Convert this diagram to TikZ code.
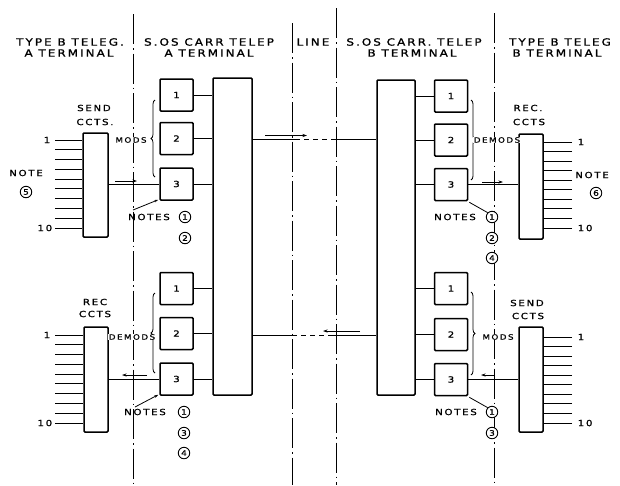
\documentclass[tikz,border=0pt]{standalone}
\usepackage{fontspec}
\setmainfont{DejaVu Sans}
\newfontfamily\drf[FakeStretch=1.2,LetterSpace=20,FakeBold=1.1]{DejaVu Sans}
\usetikzlibrary{arrows.meta,decorations.pathreplacing}
\begin{document}
\begin{tikzpicture}[x=1pt,y=-1pt,
  hdr/.style={font=\drf\fontsize{10}{10}\selectfont, inner sep=0pt},
  lbl/.style={font=\drf\fontsize{8.5}{9}\selectfont, inner sep=0.6pt},
  slbl/.style={font=\drf\fontsize{7.3}{7.5}\selectfont, inner sep=0.6pt, fill=white},
  unit/.style={draw, line width=1.5pt, rounded corners=1pt, minimum width=33pt, minimum height=32pt, font=\drf\fontsize{8.5}{9}\selectfont, inner sep=0pt},
  tall/.style={draw, line width=1.5pt, rounded corners=1pt, inner sep=0pt},
  circ/.style={draw, circle, line width=0.9pt, minimum size=11.5pt, inner sep=0pt, fill=white, font=\drf\fontsize{7.5}{8}\selectfont},
  divider/.style={line width=0.9pt, dash pattern=on 30pt off 4pt on 1.5pt off 4pt},
  wire/.style={line width=1pt},
  dashwire/.style={line width=1pt, dash pattern=on 5pt off 4pt},
  flow/.style={line width=0.7pt, -{Stealth[length=4.5pt,width=3pt]}},
  pointer/.style={line width=0.8pt, -{Stealth[length=4pt,width=2.5pt]}},
  plainptr/.style={line width=0.8pt},
  brc/.style={line width=0.8pt, decorate, decoration={brace, amplitude=4pt}},
]
\useasboundingbox[fill=white] (0,0) rectangle (620,485);

% dividers
\coordinate (v1t) at (133,14);  \coordinate (v1b) at (133,485);
\coordinate (v2t) at (292,23);  \coordinate (v2b) at (292,485);
\coordinate (v3t) at (336,8);   \coordinate (v3b) at (336,485);
\coordinate (v4t) at (494,13);  \coordinate (v4b) at (494,485);
\draw[divider] (v1t) -- (v1b);
\draw[divider] (v2t) -- (v2b);
\draw[divider] (v3t) -- (v3b);
\draw[divider] (v4t) -- (v4b);

% headers
\node[hdr, fill=white] (h1a) at (70,42) {TYPE B TELEG.};
\node[hdr] (h1b) at (69,53) {A TERMINAL};
\node[hdr] (h2a) at (209,42) {S.OS CARR TELEP};
\node[hdr] (h2b) at (209,53) {A TERMINAL};
\node[hdr] (h3) at (313,42) {LINE};
\node[hdr] (h4a) at (414,42) {S.OS CARR. TELEP};
\node[hdr] (h4b) at (412,53) {B TERMINAL};
\node[hdr] (h5a) at (560,42) {TYPE B TELEG};
\node[hdr] (h5b) at (557,53) {B TERMINAL};

% big carrier boxes
\node[tall, minimum width=39pt, minimum height=317pt] (bigA) at (232.5,236.5) {};
\node[tall, minimum width=38pt, minimum height=315pt] (bigB) at (396,237.5) {};

% telegraph boxes
\node[tall, minimum width=25pt, minimum height=104pt] (sendA) at (95.5,185) {};
\node[tall, minimum width=24pt, minimum height=105pt] (recA) at (96,379.5) {};
\node[tall, minimum width=24pt, minimum height=105pt] (recB) at (531,186.5) {};
\node[tall, minimum width=24pt, minimum height=105pt] (sendB) at (531,379.5) {};

% channel units
\node[unit] (modA1) at (176.5,95) {1};
\node[unit] (modA2) at (176.5,138.5) {2};
\node[unit] (modA3) at (176.5,184) {3};
\node[unit] (demA1) at (176.5,288.5) {1};
\node[unit] (demA2) at (176.5,333.5) {2};
\node[unit] (demA3) at (176.5,379) {3};
\node[unit] (demB1) at (451,96) {1};
\node[unit] (demB2) at (451,140) {2};
\node[unit] (demB3) at (451,184.5) {3};
\node[unit] (modB1) at (451,288.5) {1};
\node[unit] (modB2) at (451,334.5) {2};
\node[unit] (modB3) at (451,379.5) {3};

% unit to carrier box wires
\foreach \u in {modA1,modA2,modA3,demA1,demA2,demA3}
  \draw[wire] (\u.east) -- (\u.east -| bigA.west);
\foreach \u in {demB1,demB2,demB3,modB1,modB2,modB3}
  \draw[wire] (\u.west) -- (\u.west -| bigB.east);

% unit 3 to telegraph boxes
\draw[wire] (modA3.west) -- (modA3.west -| sendA.east);
\draw[wire] (demA3.west) -- (demA3.west -| recA.east);
\draw[wire] (demB3.east) -- (demB3.east -| recB.west);
\draw[wire] (modB3.east) -- (modB3.east -| sendB.west);

% direction arrows by those wires
\coordinate (a1s) at (115,181); \coordinate (a1e) at (137,181);
\draw[flow] (a1s) -- (a1e);
\coordinate (a2s) at (482,182); \coordinate (a2e) at (503,182);
\draw[flow] (a2s) -- (a2e);
\coordinate (a3s) at (147,375); \coordinate (a3e) at (122,375);
\draw[flow] (a3s) -- (a3e);
\coordinate (a4s) at (495,375); \coordinate (a4e) at (481,375);
\draw[flow] (a4s) -- (a4e);

% line between terminals (top: A to B)
\coordinate (ytop) at (0,139);
\coordinate (d1) at (295,139); \coordinate (d2) at (337,139);
\draw[wire] (bigA.east |- ytop) -- (d1);
\draw[dashwire] (d1) -- (d2);
\draw[wire] (d2) -- (bigB.west |- ytop);
\coordinate (t1s) at (265,135.5); \coordinate (t1e) at (307,135.5);
\draw[flow] (t1s) -- (t1e);

% line between terminals (bottom: B to A)
\coordinate (ybot) at (0,335);
\coordinate (d3) at (292,335); \coordinate (d4) at (330,335);
\draw[wire] (bigA.east |- ybot) -- (d3);
\draw[dashwire] (d3) -- (d4);
\draw[wire] (d4) -- (bigB.west |- ybot);
\coordinate (t2s) at (360,331); \coordinate (t2e) at (323,331);
\draw[flow] (t2s) -- (t2e);

% telegraph channel lines
\foreach \i in {1,...,10} {
  \coordinate (sa\i) at (55,{140+(\i-1)*9.78});
  \draw[wire] (sa\i) -- (sa\i -| sendA.west);
  \coordinate (ra\i) at (55,{335+(\i-1)*9.78});
  \draw[wire] (ra\i) -- (ra\i -| recA.west);
  \coordinate (rb\i) at (572,{142+(\i-1)*9.56});
  \draw[wire] (rb\i) -- (rb\i -| recB.east);
  \coordinate (sb\i) at (572,{337+(\i-1)*9.56});
  \draw[wire] (sb\i) -- (sb\i -| sendB.east);
}
\node[lbl, anchor=east] (sa1l) at ([xshift=-4pt]sa1) {1};
\node[lbl, anchor=east] (sa10l) at ([xshift=-2pt]sa10) {10};
\node[lbl, anchor=east] (ra1l) at ([xshift=-4pt]ra1) {1};
\node[lbl, anchor=east] (ra10l) at ([xshift=-2pt]ra10) {10};
\node[lbl, anchor=west] (rb1l) at ([xshift=5pt]rb1) {1};
\node[lbl, anchor=west] (rb10l) at ([xshift=5pt]rb10) {10};
\node[lbl, anchor=west] (sb1l) at ([xshift=5pt]sb1) {1};
\node[lbl, anchor=west] (sb10l) at ([xshift=5pt]sb10) {10};

% box titles
\node[lbl] (sendAt1) at (94,108) {SEND};
\node[lbl] (sendAt2) at (95,122) {CCTS.};
\node[lbl] (recAt1) at (95,302) {REC};
\node[lbl] (recAt2) at (95,314) {CCTS};
\node[lbl] (recBt1) at (528,108) {REC.};
\node[lbl] (recBt2) at (529,122) {CCTS};
\node[lbl] (sendBt1) at (527,303) {SEND};
\node[lbl] (sendBt2) at (528,316) {CCTS};

% braces and group labels
\coordinate (bA1b) at (155,177); \coordinate (bA1t) at (155,100);
\draw[brc] (bA1b) -- (bA1t);
\node[slbl] (modsA) at (131,140) {MODS};
\coordinate (bA2b) at (155,373); \coordinate (bA2t) at (155,293);
\draw[brc] (bA2b) -- (bA2t);
\node[slbl] (demodsA) at (132,337) {DEMODS};
\coordinate (bB1t) at (471,100); \coordinate (bB1b) at (471,180);
\draw[brc] (bB1t) -- (bB1b);
\node[slbl] (demodsB) at (497,140) {DEMODS};
\coordinate (bB2t) at (471,292); \coordinate (bB2b) at (471,375);
\draw[brc] (bB2t) -- (bB2b);
\node[slbl] (modsB) at (498,337) {MODS};

% notes
\node[lbl] (noteA) at (26,173) {NOTE};
\node[circ] (c5) at (26,192) {5};
\node[lbl] (noteB) at (592,175) {NOTE};
\node[circ] (c6) at (596,193) {6};

\node[lbl] (nA1) at (149,217) {NOTES};
\node[circ] (cA11) at (185,217) {1};
\node[circ] (cA12) at (185,238) {2};
\coordinate (pA1) at (133,210);
\draw[pointer] (pA1) -- ([xshift=-1pt,yshift=1pt]modA3.south west);

\node[lbl] (nA2) at (145,412) {NOTES};
\node[circ] (cA21) at (184,412) {1};
\node[circ] (cA23) at (184,433) {3};
\node[circ] (cA24) at (184,453) {4};
\coordinate (pA2) at (135,407);
\draw[pointer] (pA2) -- ([xshift=-1pt,yshift=1pt]demA3.south west);

\node[lbl] (nB1) at (455,217) {NOTES};
\node[circ] (cB11) at (492,217) {1};
\node[circ] (cB12) at (492,238) {2};
\node[circ] (cB14) at (492,258) {4};
\draw[plainptr] ([xshift=1pt,yshift=-1pt]demB3.south east) -- (cB11.north west);

\node[lbl] (nB2) at (456,412) {NOTES};
\node[circ] (cB21) at (492,412) {1};
\node[circ] (cB23) at (492,433) {3};
\draw[plainptr] ([xshift=1pt,yshift=-1pt]modB3.south east) -- (cB21.north west);
\end{tikzpicture}
\end{document}
